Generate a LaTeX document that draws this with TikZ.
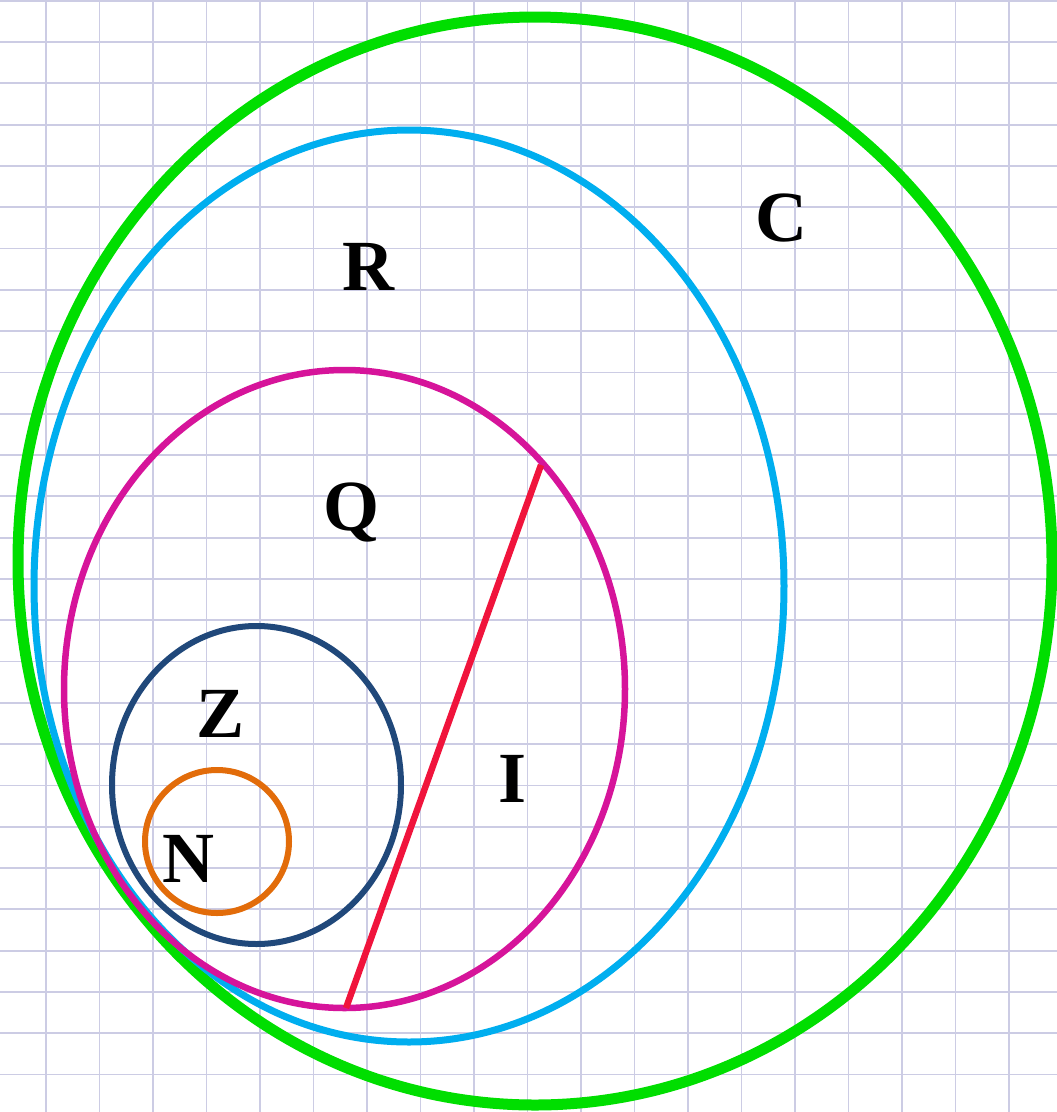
\documentclass[tikz,border=0pt]{standalone}
\usepackage{fontspec}
\setmainfont{Liberation Serif}
\definecolor{gridc}{RGB}{204,204,228}
\definecolor{cgreen}{RGB}{0,222,0}
\definecolor{cblue}{RGB}{0,174,239}
\definecolor{cmag}{RGB}{214,20,154}
\definecolor{cnavy}{RGB}{32,72,122}
\definecolor{corange}{RGB}{226,108,10}
\definecolor{cred}{RGB}{240,20,60}
\tikzset{
  lbl/.style={anchor=base,inner sep=0pt,font=\fontsize{72}{80}\selectfont\bfseries},
  gridline/.style={draw=gridc,line width=1.8pt}
}
\begin{document}
\begin{tikzpicture}[x=1pt,y=-1pt]
\useasboundingbox (0,0) rectangle (1057,1112);
\fill[white] (0,0) rectangle (1057,1112);
\foreach \k in {0,...,18} {\draw[gridline] ({46+53.5*\k},0) -- ({46+53.5*\k},1112);}
\foreach \k in {-1,...,25} {\draw[gridline] (0,{42+41.3*\k}) -- (1057,{42+41.3*\k});}
% sets
\draw[cgreen,line width=11pt] (535,561) ellipse [x radius=517pt,y radius=544pt];
\draw[cblue,line width=7pt] (409,586) ellipse [x radius=375pt,y radius=456pt];
\draw[cmag,line width=6.5pt] (344.5,689) ellipse [x radius=280.5pt,y radius=319pt];
\draw[cnavy,line width=6pt] (256.5,785) ellipse [x radius=144.5pt,y radius=159pt];
\draw[corange,line width=6pt] (217,841.5) ellipse [x radius=72pt,y radius=71.5pt];
% chord separating I
\coordinate (ra) at (541,465);
\coordinate (rb) at (346,1008);
\draw[cred,line width=6.5pt] (ra) -- (rb);
% labels
\node[lbl] (C) at (781,241) {C};
\node[lbl] (R) at (368,290) {R};
\node[lbl] (Q) at (351,530) {Q};
\node[lbl] (Z) at (221,737) {Z};
\node[lbl] (I) at (513,802) {I};
\node[lbl] (N) at (188,882) {N};
\end{tikzpicture}
\end{document}
